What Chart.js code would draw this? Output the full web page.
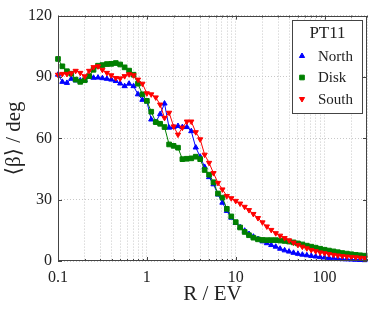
<!DOCTYPE html>
<html><head><meta charset="utf-8">
<script src="https://cdn.jsdelivr.net/npm/chart.js@4.4.1/dist/chart.umd.min.js"></script>
<style>html,body{margin:0;padding:0;background:#fff}#wrap{width:374px;height:311px;position:relative}</style>
</head><body><div id="wrap"><canvas id="c"></canvas></div>
<script>
// R values (EV), evenly spaced in log
const R = [0.1,0.112,0.126,0.141,0.158,0.178,0.2,0.224,0.251,0.282,0.316,0.355,0.398,0.447,0.501,0.562,0.631,0.708,0.794,0.891,
  1,1.12,1.26,1.41,1.58,1.78,2,2.24,2.51,2.82,3.16,3.55,3.98,4.47,5.01,5.62,6.31,7.08,7.94,8.91,
  10,11.2,12.6,14.1,15.8,17.8,20,22.4,25.1,28.2,31.6,35.5,39.8,44.7,50.1,56.2,63.1,70.8,79.4,89.1,
  100,112,126,141,158,178,200,224,251,282];
const north = [91.1,87.6,87.1,89.1,88.3,88.3,88.4,90.0,89.6,89.7,89.4,89.1,88.7,88.0,86.8,85.5,86.7,85.5,81.5,78.8,
  78.0,69.2,68.0,71.8,77.0,65.2,65.5,66.0,65.5,65.5,63.5,55.5,51.0,46.0,41.0,37.5,32.5,28.5,24.5,21.2,
  18.6,16.5,14.8,13.2,11.9,10.7,9.6,8.7,7.8,7.0,6.0,5.2,4.6,4.0,3.5,3.1,2.8,2.5,2.2,1.9,
  1.7,1.5,1.3,1.1,0.9,0.8,0.7,0.6,0.5,0.4];
const disk = [98.8,95.2,92.8,91.6,88.7,87.6,88.4,90.4,93.5,95.5,95.8,96.3,96.4,96.8,96.1,94.7,93.1,91.1,86.7,81.5,
  78.3,73.0,67.9,67.1,65.5,57.0,56.3,55.4,49.8,50.0,50.2,51.0,49.8,44.5,42.2,38.5,33.0,31.0,25.5,21.8,
  19.0,16.4,14.2,12.6,11.4,10.6,10.3,10.2,10.2,10.2,10.0,9.8,9.5,9.1,8.6,8.1,7.5,7.0,6.5,6.0,
  5.5,5.1,4.7,4.3,3.9,3.6,3.3,3.0,2.8,2.6];
const south = [91.1,91.5,91.5,91.8,93.0,92.0,90.3,93.0,94.8,95.2,93.5,92.0,90.8,89.5,89.3,90.4,91.3,90.8,88.7,86.7,
  82.0,81.5,80.0,76.5,70.0,72.5,65.8,61.8,65.2,68.2,68.2,63.0,59.5,52.0,48.0,43.0,38.2,35.0,31.8,30.7,
  29.4,28.1,26.5,24.9,23.0,21.0,18.9,16.9,15.2,13.6,12.4,11.2,10.1,9.0,7.9,7.0,6.2,5.4,4.8,4.2,
  3.8,3.4,3.0,2.7,2.4,2.2,2.0,1.8,1.6,1.4];
const seriesNames = ['North','Disk','South'];
const legendTitle = 'PT11';
const yTicks = [0,30,60,90,120];
const xTickLabels = [0.1,1,10,100];
const xGrid = [0.1,0.2,0.3,0.4,0.5,0.6,0.7,0.8,0.9,1,2,3,4,5,6,7,8,9,10,20,30,40,50,60,70,80,90,100,200,300];

const F = "'Liberation Serif','DejaVu Serif',serif";
const TXT = '#222';
const COLORS = ['#0000ff','#008000','#ff0000'];
const STYLES = [{s:'triangle',r:3.0,rot:0},{s:'rect',r:3.3,rot:0},{s:'triangle',r:3.0,rot:180}];
const VALUES = [north, disk, south];

function marker(ctx, st, color, x, y){
  ctx.save();
  ctx.fillStyle = color; ctx.strokeStyle = color; ctx.lineWidth = 1;
  ctx.beginPath();
  if (st.s === 'rect') {
    const h = st.r * Math.SQRT1_2;
    ctx.rect(x - h, y - h, 2*h, 2*h);
  } else {
    let rad = st.rot * Math.PI/180;
    ctx.moveTo(x + Math.sin(rad)*st.r, y - Math.cos(rad)*st.r);
    for (let k=0;k<2;k++){ rad += 2*Math.PI/3; ctx.lineTo(x + Math.sin(rad)*st.r, y - Math.cos(rad)*st.r); }
    ctx.closePath();
  }
  ctx.fill(); ctx.stroke();
  ctx.restore();
}

const framePlugin = {
  id:'frame',
  afterDatasetsDraw(chart){
    const {ctx, chartArea:a, scales:{x,y}} = chart;
    ctx.save();
    ctx.strokeStyle = '#444'; ctx.lineWidth = 1;
    ctx.beginPath();
    for (const v of xGrid) {
      const px = Math.round(x.getPixelForValue(v)) + 0.5;
      const len = xTickLabels.includes(v) ? 4 : 2;
      ctx.moveTo(px, a.bottom); ctx.lineTo(px, a.bottom - len);
      ctx.moveTo(px, a.top); ctx.lineTo(px, a.top + len);
    }
    for (const v of yTicks) {
      const py = Math.round(y.getPixelForValue(v)) + 0.5;
      ctx.moveTo(a.left, py); ctx.lineTo(a.left + 4, py);
      ctx.moveTo(a.right, py); ctx.lineTo(a.right - 4, py);
    }
    ctx.stroke();
    ctx.strokeRect(Math.round(a.left)+0.5, Math.round(a.top)+0.5, Math.round(a.right-a.left)-1, Math.round(a.bottom-a.top)-1);
    ctx.restore();
  },
  afterDraw(chart){
    const ctx = chart.ctx;
    const bx = 292, by = 20, bw = 70, bh = 93;
    ctx.save();
    ctx.fillStyle = '#fff';
    ctx.fillRect(bx, by, bw, bh);
    ctx.strokeStyle = '#444'; ctx.lineWidth = 1;
    ctx.strokeRect(bx+0.5, by+0.5, bw, bh);
    ctx.fillStyle = TXT;
    ctx.textBaseline = 'middle';
    ctx.textAlign = 'center';
    ctx.font = "17px " + F;
    ctx.fillText(legendTitle, bx + bw/2 + 0.5, by + 14);
    ctx.textAlign = 'left';
    ctx.font = "15px " + F;
    seriesNames.forEach((n,i)=>{
      const yy = by + 36 + i*21.5;
      marker(ctx, STYLES[i], COLORS[i], bx + 10, yy);
      ctx.fillStyle = TXT;
      ctx.fillText(n, bx + 26, yy + 1);
    });
    ctx.restore();
  }
};

const datasets = seriesNames.map((n,i)=>({
  label:n,
  data: R.map((r,k)=>({x:r, y:VALUES[i][k]})),
  borderColor: COLORS[i], backgroundColor: COLORS[i],
  borderWidth: 1, pointStyle: STYLES[i].s, pointRadius: STYLES[i].r, pointRotation: STYLES[i].rot,
  pointBorderWidth: 1, pointHoverRadius: STYLES[i].r, tension: 0, clip: false,
  order: 3 - i
}));

new Chart(document.getElementById('c'), {
  type:'line',
  data:{datasets},
  options:{
    responsive:true, maintainAspectRatio:false, animation:false,
    layout:{padding:{top:12,right:5,left:0,bottom:0}},
    plugins:{legend:{display:false}, tooltip:{enabled:false}},
    scales:{
      x:{type:'logarithmic', min:0.1, max:300,
        afterBuildTicks:s=>{ s.ticks = xGrid.map(v=>({value:v})); },
        afterFit:s=>{ s.height = 50; },
        ticks:{autoSkip:false, maxRotation:0, padding:7, color:TXT, font:{family:F,size:16},
          callback:(v)=> xTickLabels.includes(v) ? String(v) : ''},
        grid:{color:'#c8c8c8', lineWidth:1, drawTicks:false},
        border:{display:false, dash:[1,2]},
        title:{display:true, text:'R / EV', color:TXT, font:{family:F,size:21}, padding:{top:0,bottom:4}}
      },
      y:{min:0, max:120,
        afterBuildTicks:s=>{ s.ticks = yTicks.map(v=>({value:v})); },
        afterFit:s=>{ s.width = 58; },
        ticks:{padding:6, color:TXT, font:{family:F,size:16}},
        grid:{color:'#c8c8c8', lineWidth:1, drawTicks:false},
        border:{display:false, dash:[1,2]},
        title:{display:true, text:'⟨β⟩ / deg', color:TXT, font:{family:F,size:21}, padding:{top:2,bottom:0}}
      }
    }
  },
  plugins:[framePlugin]
});
</script></body></html>
